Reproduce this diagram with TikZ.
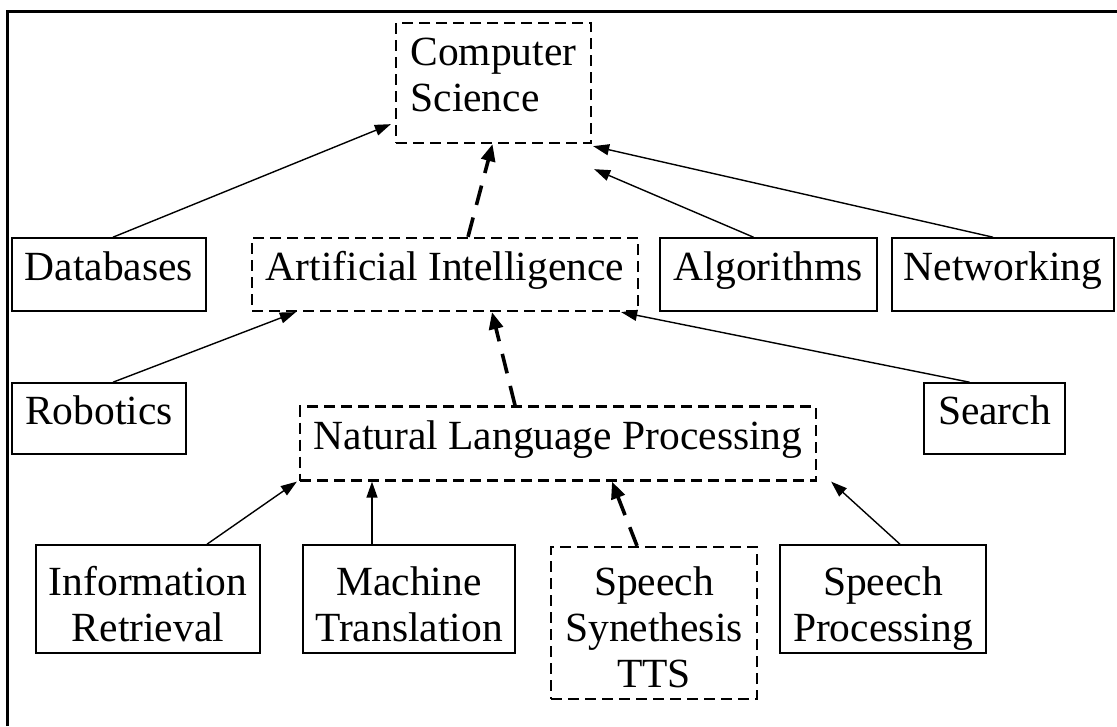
\documentclass[tikz,border=0pt]{standalone}
\usepackage{fontspec}
\setmainfont{Liberation Serif}
\usetikzlibrary{arrows.meta,calc}
% invisible rules that fix how far the text block reaches above the first
% baseline and below the last one, so the lines sit where they should
\newcommand\abovestrut[1]{\rule{0pt}{#1pt}}
\newcommand\belowstrut[1]{\rule[-#1pt]{0pt}{#1pt}}
\begin{document}
\begin{tikzpicture}[x=1pt,y=-1pt,
  every node/.style={font=\fontsize{41.5}{46}\selectfont, inner sep=0pt, align=center},
  oneline/.style={text height=30pt, text depth=18pt},
  solidbox/.style={draw, line width=1.6pt},
  dashbox/.style={draw, line width=2.3pt, dash pattern=on 11pt off 6pt},
  link/.style={line width=1.4pt, -{Triangle[length=16pt,width=11pt]}},
  dlink/.style={line width=3.6pt, dash pattern=on 20pt off 13pt, -{Triangle[length=17pt,width=14pt]}},
  frameline/.style={line width=3pt}
]
\useasboundingbox (0,0) rectangle (1117,726);

% page frame (top and left edges)
\coordinate (ftl) at (7,11);
\coordinate (ftr) at (1117,11);
\coordinate (fbl) at (7,726);
\draw[frameline] (fbl) -- (ftl) -- (ftr);

% top level
\node[dashbox, align=left, minimum width=195pt, minimum height=120pt] (cs) at (493.5,83)
  {\abovestrut{40}Computer\\Science\belowstrut{30}};

% second row
\node[solidbox, oneline, minimum width=194pt, minimum height=73pt] (db) at (109,274.5) {Databases};
\node[dashbox, oneline, minimum width=386pt, minimum height=73pt] (ai) at (445,274.5) {Artificial Intelligence};
\node[solidbox, oneline, minimum width=217pt, minimum height=73pt] (alg) at (768.5,274.5) {Algorithms};
\node[solidbox, oneline, minimum width=222pt, minimum height=73pt] (net) at (1003,274.5) {Networking};

% third row
\node[solidbox, oneline, minimum width=174pt, minimum height=71pt] (rob) at (99,418.5) {Robotics};
\node[solidbox, oneline, minimum width=141pt, minimum height=71pt] (srch) at (994.5,418.5) {Search};
\node[dashbox, oneline, minimum width=516pt, minimum height=74pt] (nlp) at (558,443.5) {Natural Language Processing};

% bottom row
\node[solidbox, minimum width=224pt, minimum height=96pt] (ir) at (148,599)
  {\abovestrut{50}Information\\Retrieval\belowstrut{12}};
\node[solidbox, minimum width=212pt, minimum height=96pt] (mt) at (409,599)
  {\abovestrut{50}Machine\\Translation\belowstrut{12}};
\node[dashbox, minimum width=206pt, minimum height=144pt] (tts) at (654,623)
  {\abovestrut{48}Speech\\Synethesis\\TTS\belowstrut{12}};
\node[solidbox, minimum width=206pt, minimum height=96pt] (sp) at (883,599)
  {\abovestrut{50}Speech\\Processing\belowstrut{12}};

% connectors into Computer Science
\draw[link] ([xshift=4pt]db.north) -- ([shift={(-4,-20)}]cs.south west);
\draw[dlink] ([xshift=23pt]ai.north) -- ([xshift=-1pt]cs.south);
\draw[link] ([xshift=-15pt]alg.north) -- ([shift={(2,25)}]cs.south east);
\draw[link] ([xshift=-10pt]net.north) -- ([shift={(1,2)}]cs.south east);

% connectors into Artificial Intelligence
\draw[link] ([xshift=14pt]rob.north) -- ([xshift=45pt]ai.south west);
\draw[dlink] ([xshift=-43pt]nlp.north) -- ([xshift=47pt]ai.south);
\draw[link] ([xshift=-25pt]srch.north) -- ([xshift=-18pt]ai.south east);

% connectors into Natural Language Processing
\coordinate (mtfoot) at ([xshift=-37pt]mt.north);
\draw[link] ([xshift=59pt]ir.north) -- ([xshift=-2pt]nlp.south west);
\draw[link] (mtfoot) -- (mtfoot |- nlp.south);
\draw[dlink] ([xshift=-17pt]tts.north) -- ([xshift=54pt]nlp.south);
\draw[link] ([xshift=17pt]sp.north) -- ([xshift=14pt]nlp.south east);
\end{tikzpicture}
\end{document}
